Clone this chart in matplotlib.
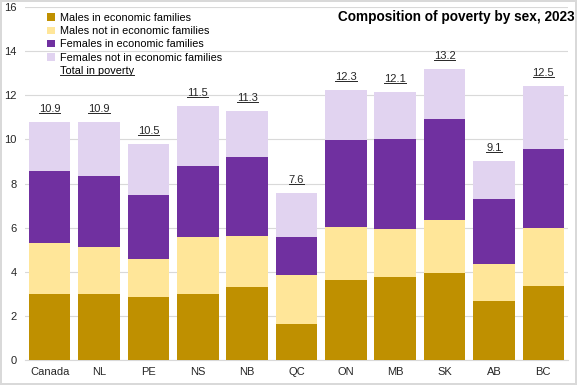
import matplotlib
matplotlib.use('Agg')
import matplotlib.pyplot as plt
from matplotlib.patches import Patch
from matplotlib.lines import Line2D
import numpy as np

plt.rcParams['font.family'] = ['Liberation Sans', 'DejaVu Sans']

regions = ['Canada', 'NL', 'PE', 'NS', 'NB', 'QC', 'ON', 'MB', 'SK', 'AB', 'BC']
males_in = [3.0, 3.0, 2.85, 3.0, 3.31, 1.63, 3.63, 3.76, 3.94, 2.67, 3.35]
males_not = [2.3, 2.13, 1.73, 2.58, 2.31, 2.22, 2.4, 2.18, 2.4, 1.68, 2.63]
females_in = [3.27, 3.22, 2.9, 3.22, 3.58, 1.72, 3.94, 4.08, 4.58, 2.95, 3.58]
females_not = [2.21, 2.43, 2.31, 2.72, 2.08, 2.0, 2.26, 2.12, 2.27, 1.72, 2.86]
totals = ['10.9', '10.9', '10.5', '11.5', '11.3', '7.6', '12.3', '12.1', '13.2', '9.1', '12.5']

series = [
    ('Males in economic families', males_in, '#BF9000'),
    ('Males not in economic families', males_not, '#FFE699'),
    ('Females in economic families', females_in, '#7030A0'),
    ('Females not in economic families', females_not, '#E1D3F0'),
]

fig = plt.figure(figsize=(5.77, 3.85), dpi=100)
fig.patch.set_edgecolor('#d9d9d9')
fig.patch.set_linewidth(1.5)
ax = fig.add_axes([25/577, 25/385, 543/577, 353/385])

x = np.arange(len(regions))
bottom = np.zeros(len(regions))
handles = []
for name, vals, col in series:
    ax.bar(x, vals, 0.84, bottom=bottom, color=col, zorder=3)
    bottom += np.array(vals)
    handles.append(Patch(facecolor=col, label=name))

underlined = []
for xi, top, lab in zip(x, bottom, totals):
    t = ax.annotate(lab, (xi, top), xytext=(0, 6), textcoords='offset points',
                    ha='center', va='bottom', fontsize=8, color='#262626')
    underlined.append(t)

handles.append(Patch(facecolor='none', edgecolor='none', label='Total in poverty'))
leg = ax.legend(handles=handles, loc='upper left', bbox_to_anchor=(0.03, 1.0),
                frameon=False, fontsize=7.8, handlelength=0.7, handleheight=0.7,
                handletextpad=0.45, labelspacing=0.3, borderaxespad=0.15)
underlined.append(leg.get_texts()[-1])

fig.text(575/577, 1 - 17/385, 'Composition of poverty by sex, 2023', fontsize=9.8,
         fontweight='bold', ha='right', va='center')

ax.set_xlim(-0.5, len(regions) - 0.5)
ax.set_ylim(0, 16)
ax.set_yticks(range(0, 17, 2))
ax.set_xticks(x)
ax.set_xticklabels(regions)
ax.tick_params(axis='both', length=0, labelsize=8, colors='#262626')
ax.tick_params(axis='y', pad=6)
ax.tick_params(axis='x', pad=5)
ax.grid(axis='y', color='#d9d9d9', linewidth=0.8, zorder=0)
for s in ['top', 'right', 'left']:
    ax.spines[s].set_visible(False)
ax.spines['bottom'].set_color('#d9d9d9')

# underline the total labels
fig.canvas.draw()
inv = fig.transFigure.inverted()
for t in underlined:
    bb = t.get_window_extent()
    (x0, y0), (x1, _) = inv.transform([(bb.x0, bb.y0 + 1), (bb.x1, bb.y0)])
    fig.add_artist(Line2D([x0, x1], [y0, y0], color='#262626', linewidth=0.7))

fig.savefig('out.png', dpi=100, edgecolor=fig.get_edgecolor())
